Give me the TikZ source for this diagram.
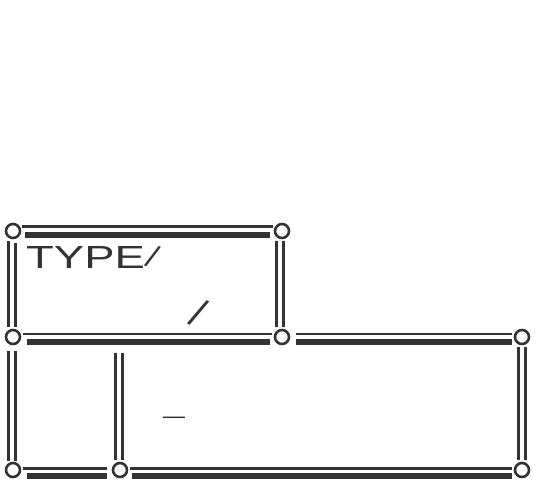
\documentclass[tikz,border=0pt]{standalone}
\usepackage{fontspec}
\usepackage{graphicx}
\setmainfont{Liberation Sans}
\usetikzlibrary{calc}
\definecolor{ink}{HTML}{333333}
\tikzset{
  thinrule/.style={draw=ink, line width=2.6pt},
  thickrule/.style={draw=ink, line width=6pt},
  vrule/.style={draw=ink, line width=3pt},
  knob/.style={circle, draw=ink, fill=white, line width=2.6pt, minimum size=14pt, inner sep=0pt},
  lbl/.style={text=ink, inner sep=0pt, font=\fontsize{32}{32}\selectfont}
}
\begin{document}
\begin{tikzpicture}[x=1pt,y=-1pt]
\useasboundingbox (0,0) rectangle (537,487);
\coordinate (tl) at (13,231);
\coordinate (tr) at (282,231);
\coordinate (ml) at (13,337);
\coordinate (mm) at (282,337);
\coordinate (mr) at (522,337);
\coordinate (bl) at (13,470);
\coordinate (bm) at (120,470);
\coordinate (br) at (522,470);
% top edge
\draw[thinrule] ($(tl)+(9,-4.5)$) -- ($(tr)+(-9,-4.5)$);
\draw[thickrule] ($(tl)+(12,4)$) -- ($(tr)+(-12,4)$);
% middle edge
\draw[thinrule] ($(ml)+(10,-3)$) -- ($(mm)+(-10,-3)$);
\draw[thickrule] ($(ml)+(14,5)$) -- ($(mm)+(-12,5)$);
\draw[thinrule] ($(mm)+(14,-3)$) -- ($(mr)+(-10,-3)$);
\draw[thickrule] ($(mm)+(14,5)$) -- ($(mr)+(-10,5)$);
% bottom edge
\draw[thinrule] ($(bl)+(10,-1.5)$) -- ($(bm)+(-13,-1.5)$);
\draw[thickrule] ($(bl)+(14,6)$) -- ($(bm)+(-13,6)$);
\draw[thinrule] ($(bm)+(10,-1.5)$) -- ($(br)+(-10,-1.5)$);
\draw[thickrule] ($(bm)+(12,6)$) -- ($(br)+(-10,6)$);
% verticals top box
\draw[vrule] ($(tl)+(-4.5,10)$) -- ($(ml)+(-4.5,-10)$);
\draw[vrule] ($(tl)+(2,12)$) -- ($(ml)+(2,-10)$);
\draw[vrule] ($(tr)+(-5.5,10)$) -- ($(mm)+(-5.5,-10)$);
\draw[vrule] ($(tr)+(1.5,10)$) -- ($(mm)+(1.5,-10)$);
% verticals bottom row
\draw[vrule] ($(ml)+(-4.5,14)$) -- ($(bl)+(-4.5,-9)$);
\draw[vrule] ($(ml)+(2,14)$) -- ($(bl)+(2,-9)$);
\draw[vrule] ($(bm)+(-4.5,-117)$) -- ($(bm)+(-4.5,-10)$);
\draw[vrule] ($(bm)+(2.5,-117)$) -- ($(bm)+(2.5,-10)$);
\draw[vrule] ($(mr)+(-3.5,10)$) -- ($(br)+(-3.5,-10)$);
\draw[vrule] ($(mr)+(3,10)$) -- ($(br)+(3,-10)$);
% corner knobs
\foreach \c in {tl,tr,ml,mm,mr,bl,bm,br}
  \node[knob] (k\c) at (\c) {};
% texts
\node[lbl, anchor=base west] (title) at (26,268) {\scalebox{1.42}[1]{TYPE}\rotatebox[origin=c]{-22}{/}};
\node[lbl, anchor=center] (slash) at (199,313) {\scalebox{1.25}{\rotatebox[origin=c]{-25}{/}}};
\node[lbl, anchor=center] (dash) at (174,420) {\scalebox{1.25}[0.7]{–}};
\end{tikzpicture}
\end{document}
